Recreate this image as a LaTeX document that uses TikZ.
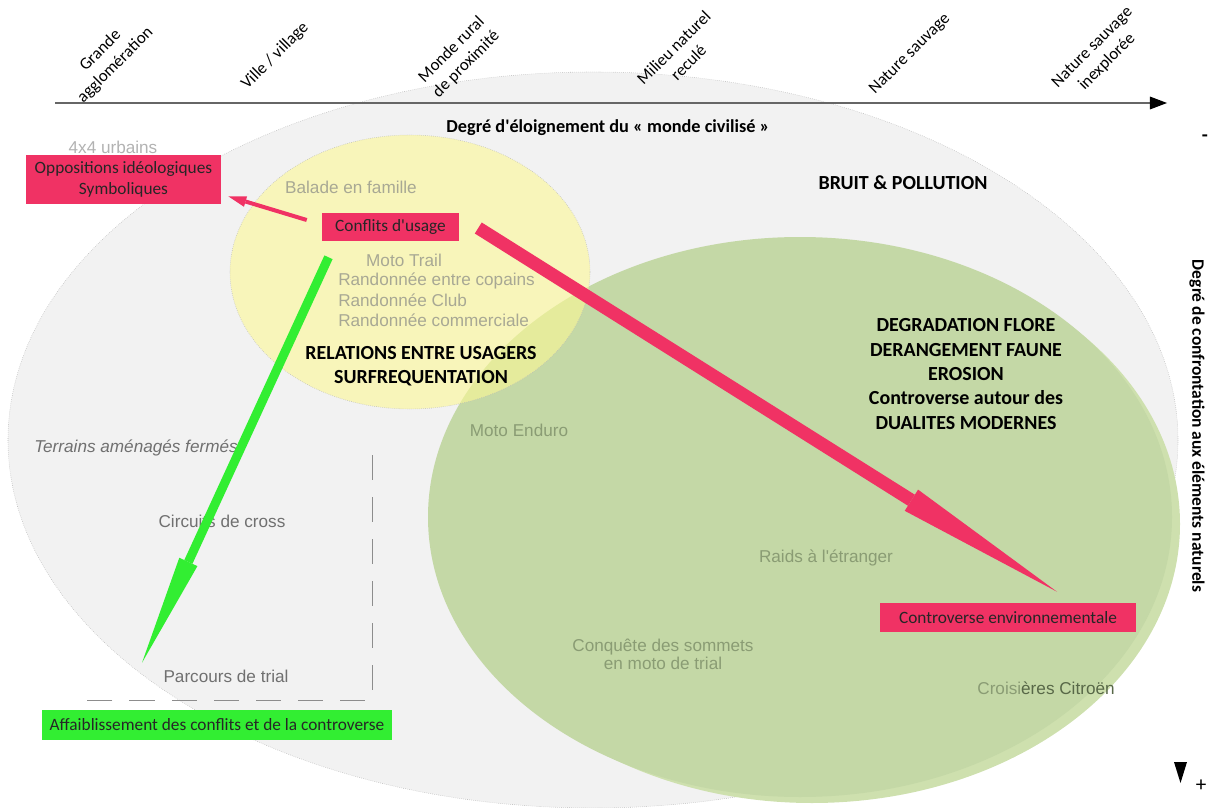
\documentclass[tikz,border=0pt]{standalone}
\usepackage{fontspec}
\setmainfont{Carlito}
\newfontfamily\arialfont{Liberation Sans}
\usepackage{xcolor}
\usepackage{tikz}
\usetikzlibrary{positioning, arrows.meta}

\definecolor{fondgris}{RGB}{242,242,242}
\definecolor{jaune}{RGB}{252,248,150}
\definecolor{vert}{RGB}{196,216,166}
\definecolor{vertclair}{RGB}{206,224,174}
\definecolor{rouge}{RGB}{240,50,100}
\definecolor{vertvif}{RGB}{50,238,50}
\definecolor{texteclair}{RGB}{168,168,148}
\definecolor{textevert}{RGB}{138,156,116}
\definecolor{textefonce}{RGB}{88,104,72}
\definecolor{textegris}{RGB}{112,112,112}

\tikzset{
  usage/.style={font=\arialfont\fontsize{12.2}{14}\selectfont, text=texteclair, inner sep=0pt},
  theme/.style={font=\bfseries\fontsize{14.2}{17.2}\selectfont, align=center, inner sep=0pt},
  echelle/.style={font=\fontsize{12}{14.8}\selectfont, align=center, rotate=45, inner sep=0pt},
  redbox/.style={fill=rouge, text=black!85, font=\fontsize{12.3}{14.5}\selectfont, align=center, inner sep=0pt},
  greenbox/.style={fill=vertvif, text=black!85, font=\fontsize{12.3}{14}\selectfont, inner sep=0pt},
  zone/.style={draw=gray!55, densely dotted, line width=0.4pt}
}

\begin{document}
\begin{tikzpicture}[x=0.025cm, y=-0.025cm]
\useasboundingbox (0,0) rectangle (1218,808);

% big zones
\fill[fondgris, zone] (593,440) ellipse [x radius=585, y radius=368];
\fill[vertclair] (812,524) ellipse [x radius=368, y radius=279];
\fill[vert] (800,517) ellipse [x radius=372, y radius=280];
\fill[jaune, fill opacity=0.6, zone] (410,272) ellipse [x radius=180, y radius=137];

% draw horizontal axis
\draw[black!60, line width=1.07pt, -{Triangle[length=12.1pt, width=9.2pt, color=black, line width=0pt]}] (55,103) -- (1167,103);

% labels of the axis
\foreach \x/\y/\lieu [count=\i] in {108/58/{Grande\\agglomération}, 275/56/{Ville / village},
  459/57/{Monde rural\\de proximité}, 681/55/{Milieu naturel\\reculé},
  910/54/{Nature sauvage}, 1100/55/{Nature sauvage\\inexplorée}}
\node[echelle] (lieu\i) at (\x,\y) {\lieu};

\node[font=\bfseries\fontsize{13}{15}\selectfont] (eloignement) at (608,128) {Degré d\textquotesingle éloignement du « monde civilisé »};
\node[font=\bfseries\fontsize{12.4}{14}\selectfont, rotate=-90] (confrontation) at (1197,426) {Degré de confrontation aux éléments naturels};
\node[font=\bfseries\fontsize{14}{16}\selectfont] (moins) at (1205,138) {-};
\node[font=\fontsize{15}{16}\selectfont] (plus) at (1201,786) {+};
\fill (1174,762) -- (1187,762) -- (1180.5,783) -- cycle;

% closed grounds
\draw[textegris!80, line width=0.71pt, dash pattern=on 17.8pt off 12.1pt] (372,455) -- (372,700) -- (82,700);

% practices
\node[usage, text=black!30] (urbains) at (113,147) {4x4 urbains};
\node[usage] (balade) at (351,187) {Balade en famille};
\node[usage] (trail) at (404,260) {Moto Trail};
\node[usage, anchor=west] (copains) at (338,281) {Randonnée entre copains};
\node[usage, anchor=west] (club) at (338,300) {Randonnée Club};
\node[usage, anchor=west] (commerciale) at (338,320) {Randonnée commerciale};
\node[usage, text=textevert] (enduro) at (519,430) {Moto Enduro};
\node[usage, text=textegris, font=\arialfont\itshape\fontsize{12.2}{14}\selectfont] (terrains) at (136,448) {Terrains aménagés fermés};
\node[usage, text=textegris] (cross) at (222,521) {Circuits de cross};
\node[usage, text=textegris] (trial) at (226,676) {Parcours de trial};
\node[usage, text=textevert] (raids) at (826,558) {Raids à l\textquotesingle étranger};
\node[usage, text=textevert, align=center, font=\arialfont\fontsize{12.2}{12.8}\selectfont] (sommets) at (663,654) {Conquête des sommets\\en moto de trial};
\node[usage] (croisieres) at (1046,688) {\textcolor{textevert}{Croisi}\textcolor{textefonce}{ères Citroën}};

% impacts
\node[theme, font=\bfseries\fontsize{14.2}{17}\selectfont] (relations) at (421,366) {RELATIONS ENTRE USAGERS\\SURFREQUENTATION};
\node[theme] (bruit) at (903,183) {BRUIT \& POLLUTION};
\node[theme, font=\bfseries\fontsize{14.2}{17.4}\selectfont] (degradation) at (966,374) {DEGRADATION FLORE\\DERANGEMENT FAUNE\\EROSION\\Controverse autour des\\DUALITES MODERNES};

% boxes
\node[redbox, minimum width=138.7pt, minimum height=34.9pt] (opposition) at (123.5,179.5) {Oppositions idéologiques\\Symboliques};
\node[redbox, minimum width=97.4pt, minimum height=19.9pt] (conflits) at (390.5,227) {Conflits d\textquotesingle usage};
\node[redbox, minimum width=182.1pt, minimum height=20.6pt] (controverse) at (1008,617.5) {Controverse environnementale};
\node[greenbox, minimum width=249pt, minimum height=21.3pt] (affaiblissement) at (217,725) {Affaiblissement des conflits et de la controverse};

% arrows
\coordinate (rouge-depart) at ([shift={(19,1)}]conflits.east);
\coordinate (rouge-pointe) at ([shift={(49,-11)}]controverse.north);
\coordinate (vert-depart) at ([shift={(-62,16)}]conflits.south);
\coordinate (vert-pointe) at ([shift={(-75,-47)}]affaiblissement.north);
\coordinate (petit-depart) at ([shift={(-15,-7)}]conflits.west);
\coordinate (petit-pointe) at ([shift={(7,-8)}]opposition.south east);
\draw[rouge, line width=2.85pt, -{Triangle[length=12.8pt, width=7.8pt, line width=0pt]}] (petit-depart) -- (petit-pointe);
\draw[rouge, line width=9.25pt, -{Triangle[length=122.3pt, width=17.8pt, line width=0pt]}] (rouge-depart) -- (rouge-pointe);
\draw[vertvif, line width=6.4pt, -{Triangle[length=78.9pt, width=14.2pt, line width=0pt]}] (vert-depart) -- (vert-pointe);
\end{tikzpicture}
\end{document}
